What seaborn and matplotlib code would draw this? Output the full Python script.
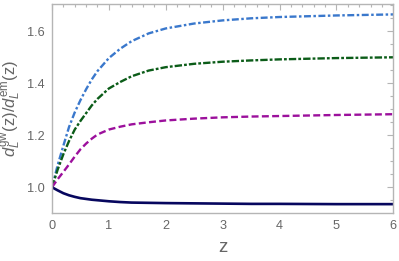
import matplotlib
matplotlib.use("Agg")
import matplotlib.pyplot as plt
import seaborn as sns
import pandas as pd
from matplotlib.ticker import MultipleLocator

# ---- data ----
z = [0, 0.1, 0.2, 0.3, 0.4, 0.5, 0.6, 0.7, 0.8, 1.0, 1.2, 1.4, 1.7, 2.0,
     2.5, 3.0, 3.5, 4.0, 5.0, 6.0]
blue = [1.0, 1.085, 1.160, 1.232, 1.288, 1.335, 1.377, 1.415, 1.447, 1.497,
        1.533, 1.562, 1.592, 1.611, 1.630, 1.642, 1.650, 1.655, 1.661, 1.665]
green = [1.0, 1.068, 1.127, 1.178, 1.222, 1.255, 1.285, 1.315, 1.340, 1.380,
         1.405, 1.427, 1.449, 1.462, 1.475, 1.483, 1.488, 1.492, 1.497, 1.500]
purple = [1.0, 1.031, 1.059, 1.088, 1.118, 1.146, 1.168, 1.187, 1.203, 1.222,
          1.233, 1.242, 1.250, 1.257, 1.264, 1.269, 1.272, 1.274, 1.278, 1.281]
navy = [1.0, 0.988, 0.977, 0.969, 0.963, 0.958, 0.955, 0.952, 0.950, 0.946,
        0.943, 0.941, 0.940, 0.939, 0.938, 0.937, 0.936, 0.936, 0.935, 0.935]

xticks = [0, 1, 2, 3, 4, 5, 6]
yticks = [1.0, 1.2, 1.4, 1.6]

sns.set_style("white")
plt.rcParams['font.family'] = ['Liberation Sans', 'DejaVu Sans']
plt.rcParams['mathtext.fontset'] = 'custom'
plt.rcParams['mathtext.rm'] = 'Liberation Sans'
plt.rcParams['mathtext.it'] = 'Liberation Sans:italic'
plt.rcParams['lines.scale_dashes'] = False

fig = plt.figure(figsize=(3.99, 2.61), dpi=100)
ax = fig.add_axes([0.1303, 0.185, 0.8554, 0.7996])

df = pd.DataFrame({"z": z, "blue": blue, "green": green,
                   "purple": purple, "navy": navy})

sns.lineplot(data=df, x="z", y="blue", ax=ax, color="#3a78cc", linewidth=1.7,
             linestyle=(0, (5, 1.8, 1.8, 1.8)))
sns.lineplot(data=df, x="z", y="green", ax=ax, color="#0b5c18", linewidth=1.7,
             linestyle=(0, (5.3, 1.5, 2.0, 1.5)))
sns.lineplot(data=df, x="z", y="purple", ax=ax, color="#9c109c", linewidth=1.7,
             linestyle=(0, (5, 2.4)))
sns.lineplot(data=df, x="z", y="navy", ax=ax, color="#07075e", linewidth=1.9)

ax.set_xlim(0, 6)
ax.set_ylim(0.902, 1.705)

ax.set_xticks(xticks)
ax.set_xticklabels([str(t) for t in xticks])
ax.set_yticks(yticks)
ax.set_yticklabels([f"{t:.1f}" for t in yticks])
ax.xaxis.set_minor_locator(MultipleLocator(0.2))
ax.yaxis.set_minor_locator(MultipleLocator(0.05))

gray = "#b5b5b5"
lab = "#666666"
for s in ax.spines.values():
    s.set_visible(True)
    s.set_color(gray)
    s.set_linewidth(1.0)
ax.tick_params(which="both", direction="in", top=True, right=True,
               color=gray, width=0.8, labelcolor=lab, labelsize=9.2, pad=5)
ax.tick_params(which="major", length=4)
ax.tick_params(which="minor", length=2)

ax.set_xlabel("z", color=lab, fontsize=13.5, labelpad=5)
ax.set_ylabel(r"$d_L^{\mathrm{gw}}(\mathrm{z})/d_L^{\mathrm{em}}(\mathrm{z})$",
              color=lab, fontsize=12, labelpad=3)

fig.savefig("out.png", dpi=100)
